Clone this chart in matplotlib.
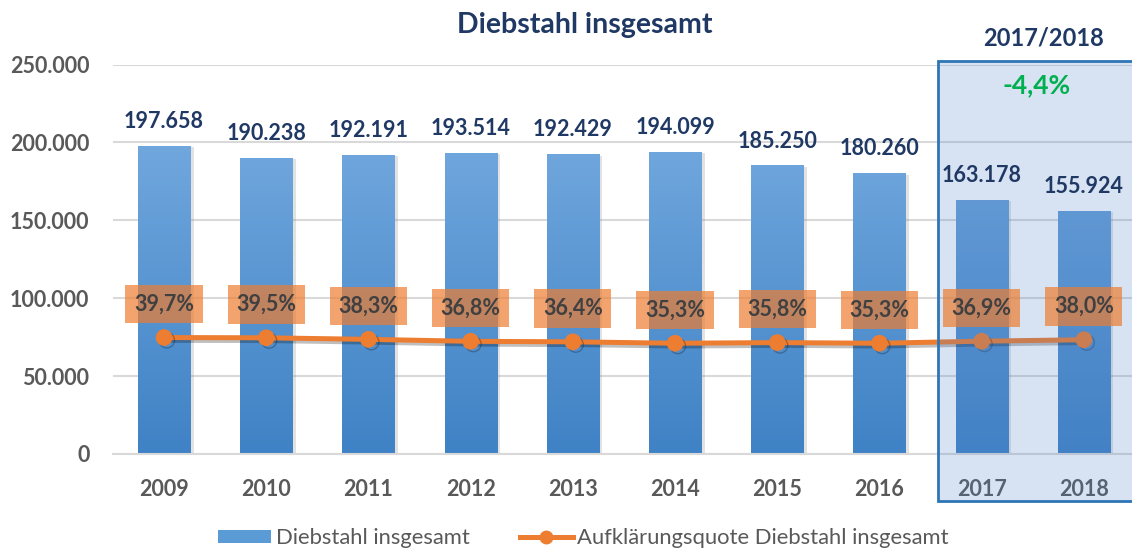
import numpy as np
import matplotlib
matplotlib.use("Agg")
import matplotlib.pyplot as plt
import matplotlib.patheffects as pe
from matplotlib.colors import LinearSegmentedColormap
from matplotlib.patches import Rectangle, Patch
from matplotlib.lines import Line2D
from matplotlib.ticker import FuncFormatter

plt.rcParams['font.family'] = ['Lato', 'DejaVu Sans']

# Daten
jahre = ['2009', '2010', '2011', '2012', '2013', '2014', '2015', '2016', '2017', '2018']
faelle = [197658, 190238, 192191, 193514, 192429, 194099, 185250, 180260, 163178, 155924]
quote = [39.7, 39.5, 38.3, 36.8, 36.4, 35.3, 35.8, 35.3, 36.9, 38.0]
veraenderung = "-4,4%"
zeitraum = "2017/2018"

NAVY = '#1F3864'
GRAU = '#595959'
ORANGE = '#ED7D31'

W, H = 1132, 551
fig = plt.figure(figsize=(W / 100, H / 100), dpi=100)
ax = fig.add_axes([113 / W, 1 - 454 / H, 1022 / W, (454 - 64.5) / H])
ax2 = ax.twinx()

x = np.arange(len(jahre))

# Balken mit Farbverlauf und weichem Schatten
bars = ax.bar(x, faelle, width=0.51, color='#5B9BD5', zorder=2,
              path_effects=[pe.SimplePatchShadow(offset=(2.5, -1), shadow_rgbFace='#8C8C8C', alpha=0.25),
                            pe.Normal()])
cmap = LinearSegmentedColormap.from_list('blau', ['#3F82C5', '#72A8DE'])
grad = np.linspace(1, 0, 256).reshape(-1, 1)
for b in bars:
    im = ax.imshow(grad, cmap=cmap, aspect='auto', zorder=2.5,
                   extent=(b.get_x(), b.get_x() + b.get_width(), 0, 205000))
    im.set_clip_path(b)

ax.set_xlim(-0.5, len(jahre) - 0.5)
ax.set_ylim(0, 250000)
ax.set_yticks(np.arange(0, 250001, 50000))
ax.yaxis.set_major_formatter(FuncFormatter(lambda v, p: f"{int(v):,}".replace(',', '.')))
ax.grid(axis='y', color='#D9D9D9', lw=1.5, zorder=0)
ax.set_axisbelow(True)
ax.set_xticks(x)
ax.set_xticklabels(jahre)
for s in ['top', 'right', 'left']:
    ax.spines[s].set_visible(False)
ax.spines['bottom'].set_color('#D9D9D9')
ax.spines['bottom'].set_linewidth(1.5)
ax.tick_params(axis='both', length=0, labelsize=15.5, labelcolor=GRAU)
ax.tick_params(axis='y', pad=17)
ax.tick_params(axis='x', pad=18)
for lab in ax.get_xticklabels() + ax.get_yticklabels():
    lab.set_fontweight('bold')

# Aufklärungsquote auf Sekundärachse
ax2.set_ylim(-50, 250)
ax2.set_yticks([])
for s in ax2.spines.values():
    s.set_visible(False)
ax2.plot(x, quote, color=ORANGE, lw=3.6, marker='o', markersize=11, zorder=2,
         path_effects=[pe.SimpleLineShadow(offset=(2, -2), alpha=0.25), pe.Normal()])

# Markierung 2017/2018
box = Rectangle((938 / W, 1 - 501 / H), (1140 - 938) / W, (501 - 61) / H,
                transform=fig.transFigure, facecolor=(0.30, 0.50, 0.78, 0.22),
                edgecolor='#2E75B6', lw=2, clip_on=False, zorder=3)
ax2.add_patch(box)

# Beschriftungen
for i, v in enumerate(faelle):
    ax2.annotate(f"{v:,}".replace(',', '.'), xy=(i, v), xycoords=ax.transData,
                 xytext=(0, 17.5), textcoords='offset points', ha='center', va='center',
                 fontsize=15.5, fontweight='bold', color=NAVY, zorder=5)
for i, q in enumerate(quote):
    ax2.annotate(f"{q:.1f}%".replace('.', ','), xy=(i, q), xytext=(0, 24),
                 textcoords='offset points', ha='center', va='center',
                 fontsize=15.5, fontweight='bold', color='#404040', zorder=5,
                 bbox=dict(boxstyle='square,pad=0.4', fc=ORANGE, ec='none', alpha=0.7))

fig.text(584.5 / W, 1 - 25 / H, "Diebstahl insgesamt", ha='center', va='center',
         fontsize=20.5, fontweight='bold', color=NAVY)
fig.text(1043 / W, 1 - 38 / H, zeitraum, ha='center', va='center',
         fontsize=17, fontweight='bold', color=NAVY)
fig.text(1037 / W, 1 - 85 / H, veraenderung, ha='center', va='center',
         fontsize=19, fontweight='bold', color='#00B050', zorder=6)

handles = [Patch(facecolor='#5B9BD5', edgecolor='none'),
           Line2D([], [], color=ORANGE, lw=3.6, marker='o', markersize=9)]
leg = fig.legend(handles, ['Diebstahl insgesamt', 'Aufklärungsquote Diebstahl insgesamt'],
                 loc='center', bbox_to_anchor=(583.5 / W, 1 - 538 / H), ncol=2, frameon=False,
                 fontsize=15.8, handlelength=2.4, handleheight=0.55, handletextpad=0.2,
                 columnspacing=2.3)
for t in leg.get_texts():
    t.set_color(GRAU)

fig.savefig('out.png', dpi=100)
